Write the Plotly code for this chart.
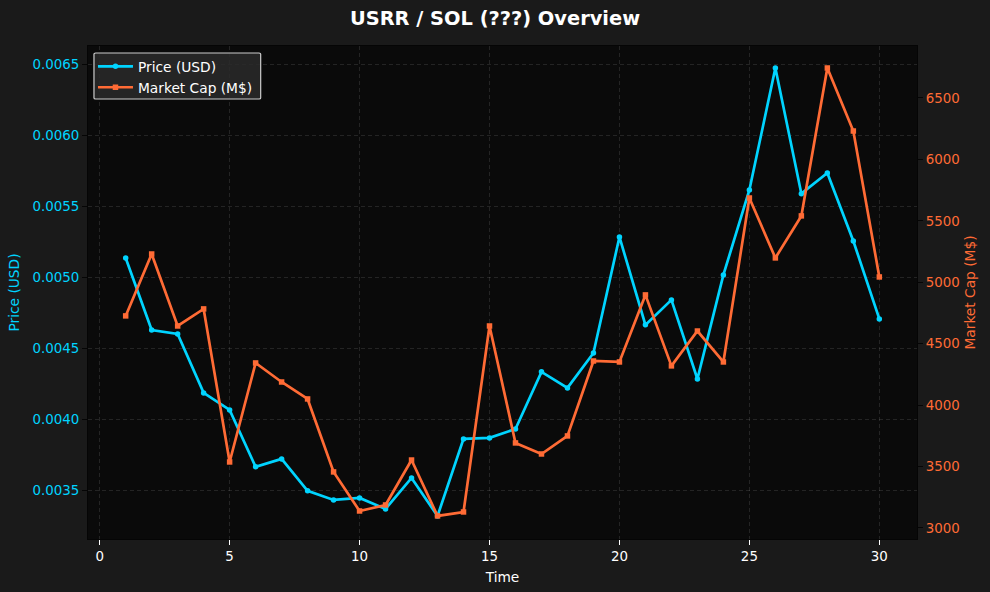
import plotly.graph_objects as go

time = list(range(1, 31))
price = [0.005137, 0.00463, 0.004602, 0.004187, 0.004067, 0.003666, 0.003722, 0.003497, 0.003433, 0.003447,
         0.00337, 0.003588, 0.00332, 0.003863, 0.00387, 0.003933, 0.004335, 0.004222, 0.004468, 0.005285,
         0.004666, 0.004842, 0.004285, 0.005018, 0.005616, 0.006475, 0.00559, 0.005736, 0.005257, 0.004708]
market_cap = [4726, 5230, 4644, 4783, 3537, 4343, 4188, 4050, 3456, 3138,
              3187, 3553, 3098, 3130, 4644, 3692, 3602, 3749, 4359, 4351,
              4897, 4319, 4603, 4351, 5686, 5198, 5540, 6744, 6231, 5043]

CYAN = "#00d4ff"
ORANGE = "#ff6b35"
GRID = "rgba(255,255,255,0.11)"
SPINE = "#050505"
FONT = "DejaVu Sans"

fig = go.Figure()
fig.add_trace(go.Scatter(x=time, y=price, name="Price (USD)", mode="lines+markers",
                         line=dict(color=CYAN, width=2.7),
                         marker=dict(color=CYAN, size=5.5, symbol="circle")))
fig.add_trace(go.Scatter(x=time, y=market_cap, name="Market Cap (M$)", mode="lines+markers", yaxis="y2",
                         line=dict(color=ORANGE, width=2.7),
                         marker=dict(color=ORANGE, size=5.5, symbol="square")))

fig.update_layout(
    width=990, height=592,
    margin=dict(l=88, r=73, t=46, b=53, autoexpand=False),
    paper_bgcolor="#1a1a1a",
    plot_bgcolor="#0a0a0a",
    font=dict(family=FONT, size=13.4, color="white"),
    title=dict(text="<b>USRR / SOL (???) Overview</b>", font=dict(size=19.4, color="white"),
               x=0.5, xanchor="center", y=0.969, yanchor="middle"),
    xaxis=dict(title=dict(text="Time", standoff=9, font=dict(size=13.75)), range=[-0.45, 31.45],
               tickvals=[0, 5, 10, 15, 20, 25, 30], automargin=False,
               ticks="outside", ticklen=5, tickcolor="white", tickfont=dict(color="white"),
               showgrid=True, gridcolor=GRID, griddash="4px,3px", gridwidth=1, zeroline=False,
               showline=True, linecolor=SPINE, mirror=True),
    yaxis=dict(title=dict(text="Price (USD)", font=dict(color=CYAN, size=13.75), standoff=9),
               range=[0.003158, 0.00663], automargin=False,
               tickvals=[0.0035, 0.004, 0.0045, 0.005, 0.0055, 0.006, 0.0065], tickformat=".4f",
               ticks="outside", ticklen=5, tickcolor=SPINE, tickfont=dict(color=CYAN),
               showgrid=True, gridcolor=GRID, griddash="4px,3px", gridwidth=1, zeroline=False,
               showline=True, linecolor=SPINE),
    yaxis2=dict(title=dict(text="Market Cap (M$)", font=dict(color=ORANGE, size=13.75), standoff=6),
                range=[2910, 6923], automargin=False,
                overlaying="y", side="right", tickvals=[3000, 3500, 4000, 4500, 5000, 5500, 6000, 6500],
                tickformat="d", ticks="outside", ticklen=5, tickcolor=SPINE, tickfont=dict(color=ORANGE),
                showgrid=False, zeroline=False, showline=True, linecolor=SPINE),
    showlegend=True,
    legend=dict(x=0.006, y=0.99, xanchor="left", yanchor="top", xref="paper", yref="paper",
                bgcolor="rgba(0,0,0,0)", borderwidth=0, font=dict(size=13.75, color="white"),
                itemwidth=35, tracegroupgap=0),
    # rounded legend frame, plotly legends only have square corners
    shapes=[dict(type="path", xref="paper", yref="paper", layer="above",
                 path="M 0.0072,0.9838 Q 0.0072,0.9858 0.0092,0.9858 L 0.2063,0.9858 Q 0.2083,0.9858 0.2083,0.9838 "
                      "L 0.2083,0.8945 Q 0.2083,0.8925 0.2063,0.8925 L 0.0092,0.8925 Q 0.0072,0.8925 0.0072,0.8945 Z",
                 fillcolor="rgba(42,42,42,0.85)", line=dict(color="#cccccc", width=1.2))],
)

# the page has a default body margin, drop it so the plot fills the window
fig.write_html("out.html", config=dict(displayModeBar=False),
               post_script="document.body.style.margin='0';document.body.style.overflow='hidden';")
